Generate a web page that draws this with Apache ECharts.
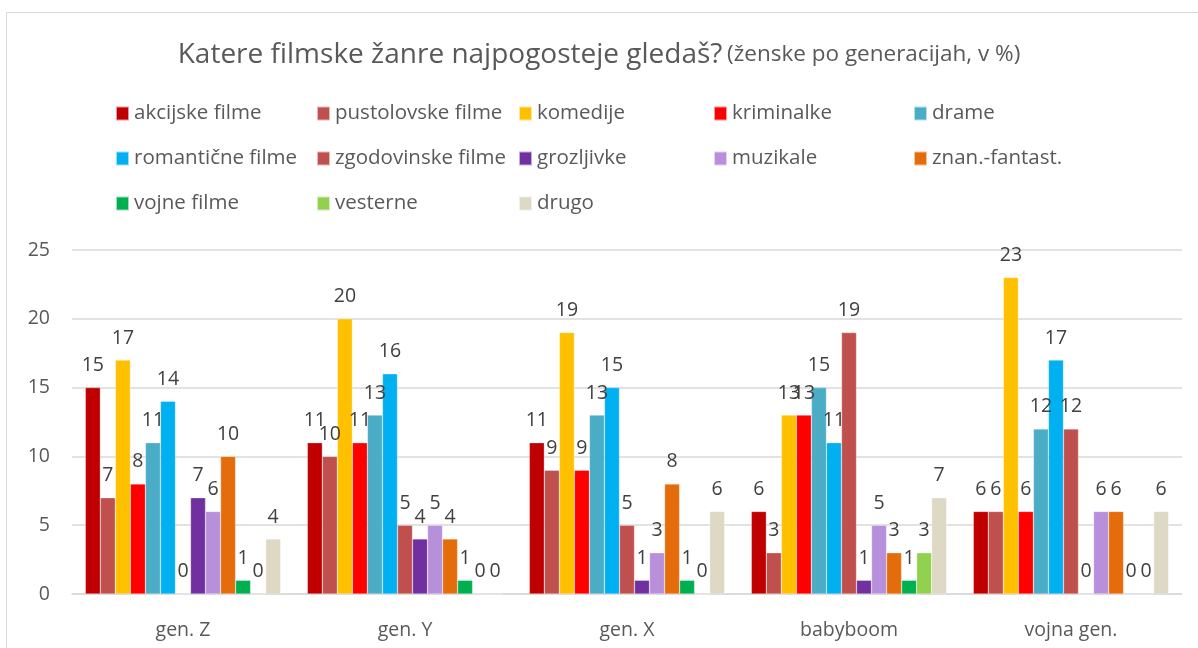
<!DOCTYPE html>
<html>
  <head>
    <meta charset="utf-8" />
    <script src="https://cdn.jsdelivr.net/npm/echarts@6.0.0/dist/echarts.min.js"></script>
    <style>
      body {
        margin: 0;
        background: #fff;
      }

      #main {
        width: 1198px;
        height: 648px;
      }
    </style>
  </head>
  <body>
    <div id="main"></div>
    <script>
      var categories = ['gen. Z', 'gen. Y', 'gen. X', 'babyboom', 'vojna gen.'];

      var akcijske = [15, 11, 11, 6, 6];
      var pustolovske = [7, 10, 9, 3, 6];
      var komedije = [17, 20, 19, 13, 23];
      var kriminalke = [8, 11, 9, 13, 6];
      var drame = [11, 13, 13, 15, 12];
      var romanticne = [14, 16, 15, 11, 17];
      var zgodovinske = [0, 5, 5, 19, 12];
      var grozljivke = [7, 4, 1, 1, 0];
      var muzikale = [6, 5, 3, 5, 6];
      var znanFantast = [10, 4, 8, 3, 6];
      var vojne = [1, 1, 1, 1, 0];
      var vesterne = [0, 0, 0, 3, 0];
      var drugo = [4, 0, 6, 7, 6];

      var yTicks = [0, 5, 10, 15, 20, 25];

      var seriesDefs = [
        ['akcijske filme', akcijske, '#C00000'],
        ['pustolovske filme', pustolovske, '#C0504D'],
        ['komedije', komedije, '#FFC000'],
        ['kriminalke', kriminalke, '#FF0000'],
        ['drame', drame, '#4BACC6'],
        ['romantične filme', romanticne, '#00B0F0'],
        ['zgodovinske filme', zgodovinske, '#C0504D'],
        ['grozljivke', grozljivke, '#7030A0'],
        ['muzikale', muzikale, '#B88FDB'],
        ['znan.-fantast.', znanFantast, '#E46C0A'],
        ['vojne filme', vojne, '#00B050'],
        ['vesterne', vesterne, '#92D050'],
        ['drugo', drugo, '#DDD9C4']
      ];

      var font = '"Open Sans", "Noto Sans", sans-serif';

      // one legend per entry so the columns line up like the original
      var legendCols = [110, 311, 513, 708, 908];
      var legends = seriesDefs.map(function (d, i) {
        return {
          data: [d[0]],
          left: legendCols[i % 5],
          top: 98 + Math.floor(i / 5) * 45,
          icon: 'rect',
          itemWidth: 13,
          itemHeight: 14,
          itemGap: 0,
          selectedMode: false,
          textStyle: { fontFamily: font, fontSize: 20.5, color: '#595959' }
        };
      });

      var chart = echarts.init(document.getElementById('main'));

      chart.setOption({
        animation: false,
        textStyle: { fontFamily: font },
        title: {
          text: '{a|Katere filmske žanre najpogosteje gledaš?} {b|(ženske po generacijah, v %)}',
          left: 'center',
          top: 36,
          textStyle: {
            fontWeight: 'normal',
            rich: {
              a: { fontFamily: font, fontSize: 28, color: '#595959', fontWeight: 'normal' },
              b: { fontFamily: font, fontSize: 22.5, color: '#595959', fontWeight: 'normal' }
            }
          }
        },
        legend: legends,
        graphic: [
          {
            type: 'rect',
            shape: { x: 6.5, y: 12.5, width: 1200, height: 660 },
            style: { fill: 'none', stroke: '#D9D9D9', lineWidth: 1 },
            silent: true
          }
        ],
        grid: {
          left: 72,
          right: 16,
          top: 250,
          bottom: 54,
          containLabel: false
        },
        xAxis: {
          type: 'category',
          data: categories,
          axisTick: { show: false },
          axisLine: { lineStyle: { color: '#D9D9D9', width: 1.5 } },
          axisLabel: { fontSize: 19.5, color: '#595959', margin: 26 }
        },
        yAxis: {
          type: 'value',
          min: yTicks[0],
          max: yTicks[yTicks.length - 1],
          interval: yTicks[1] - yTicks[0],
          axisLine: { show: false },
          axisTick: { show: false },
          axisLabel: { fontSize: 19.5, color: '#595959', margin: 22 },
          splitLine: { lineStyle: { color: '#D9D9D9', width: 1.5 } }
        },
        series: seriesDefs.map(function (d) {
          return {
            name: d[0],
            type: 'bar',
            data: d[1],
            barGap: '0%',
            barCategoryGap: '12%',
            itemStyle: { color: d[2], borderColor: 'rgba(255,255,255,0.6)', borderWidth: 0.5 },
            label: {
              show: true,
              position: 'top',
              distance: 12,
              fontSize: 19.5,
              color: '#404040'
            }
          };
        })
      });
    </script>
  </body>
</html>
